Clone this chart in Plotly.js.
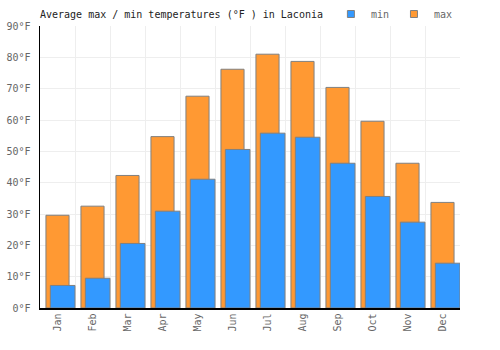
<!DOCTYPE html>
<html>
<head>
<meta charset="utf-8">
<script src="https://cdn.plot.ly/plotly-3.0.1.min.js"></script>
<style>html,body{margin:0;padding:0;background:#fff;}#chart{width:500px;height:350px;}</style>
</head>
<body>
<div id="chart"></div>
<script>
const months = ["Jan","Feb","Mar","Apr","May","Jun","Jul","Aug","Sep","Oct","Nov","Dec"];
const maxTemps = [29.6, 32.5, 42.3, 54.7, 67.6, 76.2, 81.0, 78.7, 70.4, 59.6, 46.2, 33.7];
const minTemps = [7.2, 9.5, 20.6, 30.9, 41.1, 50.6, 55.8, 54.5, 46.2, 35.6, 27.4, 14.3];
const seriesNames = ["min", "max"];
const seriesColors = ["#3399ff", "#ff9933"];

const font = "DejaVu Sans Mono, monospace";

const traces = [
  {
    type: "bar", name: "max", x: months, y: maxTemps,
    offset: -0.33, width: 0.66, showlegend: false,
    marker: {color: seriesColors[1], line: {color: "#808080", width: 1}},
    hoverinfo: "skip"
  },
  {
    type: "bar", name: "min", x: months, y: minTemps,
    offset: -0.205, width: 0.705, showlegend: false,
    marker: {color: seriesColors[0], line: {color: "#808080", width: 1}},
    hoverinfo: "skip"
  }
];
seriesNames.forEach((n, i) => traces.push({
  type: "scatter", mode: "markers", name: n, x: [null], y: [null],
  marker: {symbol: "square", size: 7, color: seriesColors[i], line: {color: "#808080", width: 1}},
  showlegend: true, hoverinfo: "skip"
}));

const layout = {
  width: 500, height: 350,
  margin: {l: 40, r: 40, t: 26, b: 42, pad: 0, autoexpand: false},
  paper_bgcolor: "#fff", plot_bgcolor: "#fff",
  barmode: "overlay",
  font: {family: font, size: 10, color: "#666"},
  title: {
    text: "Average max / min temperatures (°F ) in Laconia",
    font: {family: font, size: 10, color: "#222"},
    x: 40/500, xref: "container", xanchor: "left",
    y: 1 - 14/350, yref: "container", yanchor: "middle"
  },
  showlegend: true,
  legend: {
    orientation: "h", traceorder: "normal",
    x: 0.995, xanchor: "right", y: 1 + 12/282, yanchor: "middle",
    font: {family: font, size: 10, color: "#666"},
    itemwidth: 30, tracegroupgap: 0, bgcolor: "rgba(0,0,0,0)"
  },
  xaxis: {
    type: "category", tickson: "boundaries",
    showgrid: true, gridcolor: "#eeeeee", gridwidth: 1,
    showline: true, linecolor: "#000", linewidth: 1.5,
    ticks: "", tickangle: -90, tickfont: {family: font, size: 10, color: "#666"},
    range: [-0.5, 11.5], fixedrange: true
  },
  yaxis: {
    range: [0, 90], dtick: 10, tick0: 0, ticksuffix: "°F",
    showgrid: true, gridcolor: "#eeeeee", gridwidth: 1,
    showline: true, linecolor: "#000", linewidth: 1.5,
    zeroline: false, ticks: "", ticklabelstandoff: 6,
    tickfont: {family: font, size: 10, color: "#666"}, fixedrange: true
  }
};

Plotly.newPlot("chart", traces, layout, {displayModeBar: false, staticPlot: true});
</script>
</body>
</html>
